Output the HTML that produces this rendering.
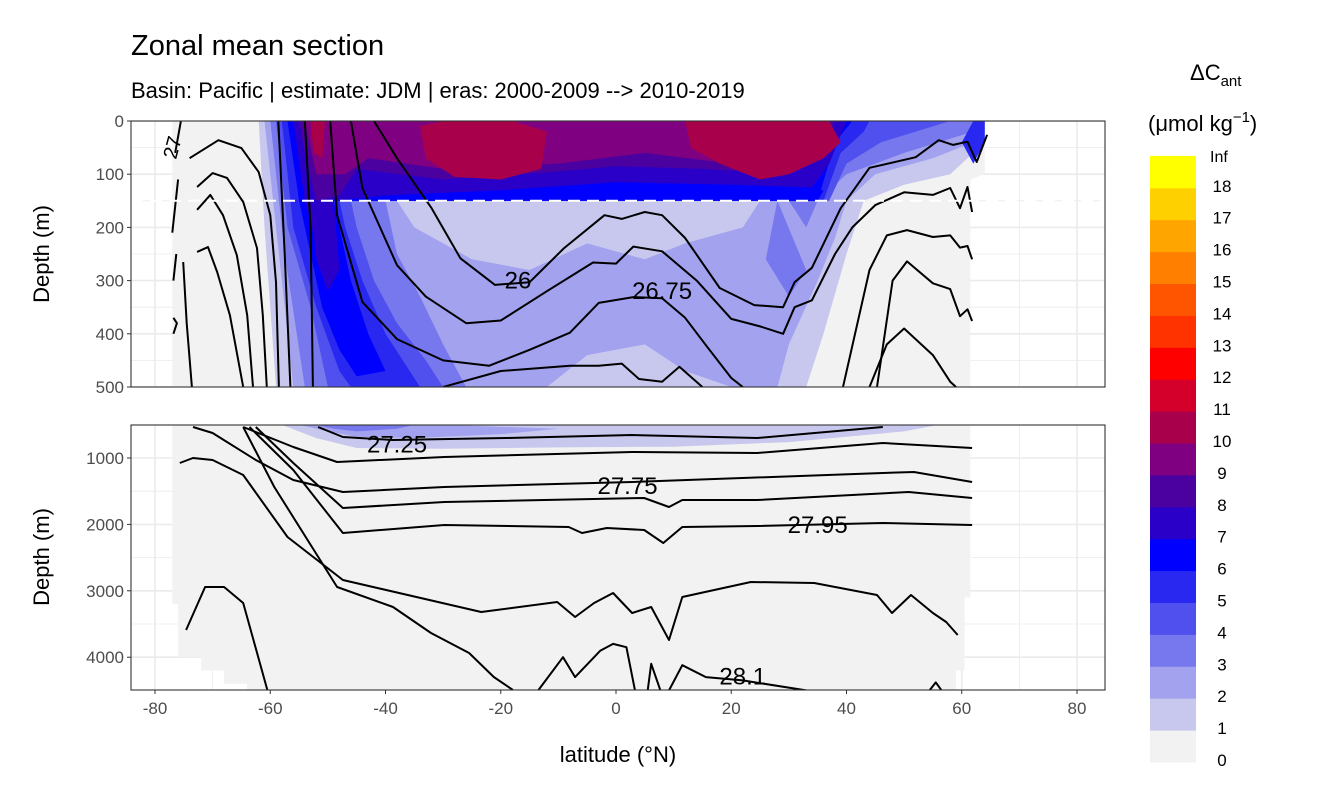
<!DOCTYPE html>
<html><head><meta charset="utf-8"><style>
body{margin:0;background:#fff;}
svg{display:block;font-family:"Liberation Sans",sans-serif;}
</style></head><body>
<svg id="chart" width="1344" height="806" viewBox="0 0 1344 806">
<text x="131" y="55" font-size="29" fill="#000">Zonal mean section</text>
<text x="131" y="98" font-size="22" fill="#000">Basin: Pacific | estimate: JDM  | eras: 2000-2009 --&gt; 2010-2019</text>
<g id="gTop"></g>
<g id="gBot"></g>
<g id="gAx"></g>
<text x="618" y="762" font-size="22" text-anchor="middle">latitude (°N)</text>
<text transform="translate(49,254) rotate(-90)" font-size="22" text-anchor="middle">Depth (m)</text>
<text transform="translate(49,557) rotate(-90)" font-size="22" text-anchor="middle">Depth (m)</text>
<g>
<text x="1190" y="80" font-size="22" text-anchor="start">ΔC<tspan font-size="15" dy="6">ant</tspan></text>
<text x="1148" y="131" font-size="22">(μmol kg<tspan font-size="15" dy="-9">−1</tspan><tspan dy="9">)</tspan></text>
<g id="gLeg"></g>
</g>
</svg>
<script>
const NS="http://www.w3.org/2000/svg";
// ---- data ----
const legendLabels=["0","1","2","3","4","5","6","7","8","9","10","11","12","13","14","15","16","17","18","Inf"];
const levelColors=["#f2f2f2","#c8c8ef","#a2a2ef","#7878ee","#5050ee","#2828f0","#0000ff","#2a00c8","#4b00a0","#7f0080","#a8004a","#d4002b","#ff0000","#ff3300","#ff5500","#ff8000","#ffa500","#ffd000","#ffff00"];
const xTicks=[-80,-60,-40,-20,0,20,40,60,80];
const yTicksTop=[0,100,200,300,400,500];
const yTicksBot=[1000,2000,3000,4000];
const topFillLevels=[0,1,2,1,3,3,4,5,5,6,6,7,8,9,10,10,10,7];
const topFills=[
[[-77,0],[64,0],[64,100],[61.5,110],[61.5,500],[-77,500]],
[[-62,0],[-61,200],[-59,500],[33,500],[36,400],[40,250],[43,150],[50,120],[58,100],[62,60],[62,0]],
[[-61,0],[-59,200],[-56,500],[-12,500],[-5,440],[5,420],[12,470],[20,500],[28,500],[30,420],[35,300],[38,220],[40,150],[45,100],[55,70],[62,40],[62,0]],
[[-38,150],[25,150],[22,200],[12,230],[5,260],[-5,230],[-15,280],[-25,260],[-35,200]],
[[-60,0],[-57.5,250],[-54,500],[-26,500],[-30,420],[-34,330],[-38,250],[-40,150],[30,150],[33,200],[35,150],[40,100],[50,60],[62,20],[62,0]],
[[28,150],[33,280],[30,330],[26,260]],
[[-59,0],[-57,200],[-53,350],[-50,500],[-30,500],[-33,450],[-38,380],[-42,300],[-45,200],[-46,150],[37,150],[40,80],[46,40],[58,0]],
[[-58,0],[-56,200],[-52,350],[-48,470],[-46,500],[-34,500],[-40,400],[-44,300],[-47,200],[-48,150],[36,150],[39,60],[43,20],[44,0]],
[[62,0],[64,0],[64,40],[62,80],[60,40]],
[[-57,0],[-55,150],[-53,250],[-51,350],[-48,430],[-45,480],[-40,470],[-43,400],[-46,300],[-48,200],[-49,150],[35,150],[38,40],[41,0]],
[[-48,150],[35,150],[36,130],[20,125],[0,110],[-20,110],[-40,120]],
[[-56,0],[-54,150],[-52,230],[-49,150],[-40,140],[-20,130],[0,115],[20,120],[34,125],[37,80],[40,0]],
[[-55,0],[-54,60],[-52,150],[-48,140],[-45,90],[-30,110],[-10,95],[0,85],[15,90],[30,100],[35,60],[38,0]],
[[-54,0],[-52,100],[-47,100],[-43,70],[-30,90],[-10,80],[5,60],[20,80],[33,60],[36,0]],
[[-34,10],[-33,70],[-28,105],[-20,110],[-13,90],[-12,20],[-18,0],[-30,0]],
[[12,0],[13,50],[18,80],[25,110],[30,100],[36,70],[39,40],[37,0]],
[[-53,0],[-52.5,60],[-51,70],[-50.5,0]],
[[-53,150],[-52,260],[-50,320],[-48,280],[-49,150]]
];
const botFillLevels=[0,1,2,3];
const botFills=[
[[-77,500],[61.5,500],[61.5,3100],[60.5,3100],[60.5,4200],[59,4200],[59,4500],[-64,4500],[-64,4400],[-68,4400],[-68,4200],[-72,4200],[-72,4000],[-76,4000],[-76,3200],[-77,3200]],
[[-58,500],[56,500],[50,600],[30,760],[10,830],[-10,840],[-30,860],[-45,850],[-52,700]],
[[-55,500],[-30,500],[-10,560],[-20,640],[-35,700],[-45,680],[-50,600]],
[[-52,500],[-35,500],[-38,560],[-45,600],[-49,560]]
];
const topLines=[
[[-42,0],[-38,70],[-32,164],[-27,258],[-21,308],[-15,303],[-9,239],[-2,177],[1,184],[5,171],[8,177],[12,220],[18,314],[24,346],[29,350],[31,303],[34,276],[39,164],[44,88],[46,83],[52,68],[56,36],[58.5,45],[61,39],[62.6,77],[64.4,26]],
[[-46,0],[-44,126],[-38,271],[-33,330],[-26,380],[-20,375],[-12,320],[-4,266],[0,268],[3,236],[8,245],[14,300],[20,372],[25,386],[29,400],[31,350],[34,337],[38,250],[41,200],[45,158],[50,134],[55,139],[58,126],[59.7,164],[61,124],[61.8,171]],
[[-49.6,0],[-48.4,177],[-44,340],[-38,410],[-30,450],[-22,460],[-15,430],[-8,398],[-3,342],[3,331],[8,333],[12,370],[16,427],[20,483],[22,500]],
[[39.4,500],[44,280],[47,215],[50.5,205],[55,218],[58,215],[59.7,238],[61,235],[61.8,260]],
[[-30,500],[-20,470],[-8,460],[-3,460],[1,456],[4,485],[8,490],[11,462],[15,500]],
[[45.3,500],[48,300],[50.5,264],[55,305],[58,316],[59.7,367],[61,354],[61.8,376]],
[[44,500],[47,420],[50,390],[55,440],[58,490],[59,500]],
[[-54,0],[-53,200],[-52.6,500]],
[[-58.6,0],[-57.5,250],[-56.5,500]],
[[-74,70],[-69,36],[-65,51],[-62,96],[-60,177],[-59,303],[-58.5,500]],
[[-72.7,124],[-70,98],[-67.5,107],[-64.7,152],[-62.3,239],[-61.3,365],[-60.6,500]],
[[-72.7,167],[-70.4,139],[-68.2,177],[-65.8,252],[-64,365],[-63,500]],
[[-72.7,246],[-70.8,237],[-69.2,284],[-67,365],[-64.7,500]],
[[-75.1,265],[-74.5,380],[-73.6,500]],
[[-76.5,60],[-75.5,0]],[[-77,210],[-76,110]],[[-76.8,300],[-76.3,250]],[[-76.8,370],[-76.2,380],[-76.8,400]]
];
const botLines=[
[[-51.7,533],[-47.4,684],[-38.7,729],[-19.1,699],[2.8,654],[24.5,699],[46.3,533]],
[[-64.7,533],[-56,834],[-48.4,1060],[-29.8,985],[2.8,910],[24.5,925],[46.3,774],[61.8,849]],
[[-73.4,533],[-70,623],[-62.5,1030],[-56,1331],[-47.4,1512],[-29.8,1437],[2.8,1361],[46.3,1226],[51.7,1211],[61.8,1361]],
[[-62.5,533],[-56,1075],[-47.4,1753],[-29.8,1663],[4.9,1602],[9.2,1738],[11.5,1633],[24.5,1633],[50.8,1512],[61.8,1602]],
[[-63.6,533],[-56,1181],[-47.4,2130],[-29.8,2009],[-8.2,2039],[-5.9,2130],[-1.6,2054],[4.9,2084],[8.2,2280],[11.5,2039],[24.5,2024],[46.3,1979],[61.8,2009]],
[[-75.7,1075],[-73.4,1000],[-70,1030],[-64.7,1256],[-57,2190],[-47.4,2837],[-23.4,3319],[-10.2,3169],[-7.1,3395],[-3.8,3184],[-0.5,3033],[2.8,3334],[6.1,3244],[9.2,3741],[11.5,3093],[23.4,2867],[34.4,2883],[45.3,3063],[47.9,3334],[51.2,3063],[55,3334],[57.3,3470],[59.3,3666]],
[[-64.7,533],[-59.3,1437],[-48.4,2943],[-38.7,3244],[-32.1,3636],[-25.5,3937],[-21.2,4298],[-17.9,4494]],
[[-74.6,3590],[-71.3,2943],[-68,2943],[-64.7,3184],[-60.4,4524]],
[[-13.5,4500],[-9.2,4000],[-7.1,4300],[-2.7,3900],[-0.5,3800],[1.8,3850],[3.3,4500]],
[[5.5,4500],[6.1,4100],[7.7,4500]],
[[9.2,4500],[11.5,4120],[15.6,4300],[22,4350],[33,4500]],
[[54.4,4500],[55.5,4380],[56.5,4500]]
];
const labels=[["26",-17,300],["26.75",8,320],["27.25",-38,800],["27.75",2,1420],["27.95",35,2010],["28.1",22,4290]];
// ---- scales ----
const X0=131,X1=1105,TY0=121,TY1=387,BY0=425,BY1=690;
const px=l=>616+l*5.7625;
const pyT=d=>TY0+d*0.532;
const pyB=d=>458+(d-1000)*0.0664;
function el(tag,attrs,parent){const e=document.createElementNS(NS,tag);for(const k in attrs)e.setAttribute(k,attrs[k]);parent.appendChild(e);return e;}
function pts(arr,fy){return arr.map(p=>px(p[0]).toFixed(1)+","+fy(p[1]).toFixed(1)).join(" ");}
function panel(g,y0,y1,fy,major,minor,fills,fillLv,lines,clipId){
  el("rect",{x:X0,y:y0,width:X1-X0,height:y1-y0,fill:"#fff"},g);
  const cp=el("clipPath",{id:clipId},g);el("rect",{x:X0,y:y0,width:X1-X0,height:y1-y0},cp);
  const gg=el("g",{"clip-path":"url(#"+clipId+")"},g);
  [-70,-50,-30,-10,10,30,50,70].forEach(v=>el("line",{x1:px(v),x2:px(v),y1:y0,y2:y1,stroke:"#ebebeb","stroke-width":0.8},gg));
  minor.forEach(v=>el("line",{x1:X0,x2:X1,y1:fy(v),y2:fy(v),stroke:"#ebebeb","stroke-width":0.8},gg));
  xTicks.forEach(v=>el("line",{x1:px(v),x2:px(v),y1:y0,y2:y1,stroke:"#ebebeb","stroke-width":1.6},gg));
  major.forEach(v=>el("line",{x1:X0,x2:X1,y1:fy(v),y2:fy(v),stroke:"#ebebeb","stroke-width":1.6},gg));
  fills.forEach((f,i)=>{const p=el("polygon",{points:pts(f,fy),fill:levelColors[fillLv[i]]},gg);
    
    });
  lines.forEach(l=>{const p=el("polyline",{points:pts(l,fy),fill:"none",stroke:"#000","stroke-width":2,"stroke-linejoin":"round"},gg);
    
    });
  return gg;
}
const gTop=document.getElementById("gTop"),gBot=document.getElementById("gBot"),gAx=document.getElementById("gAx");
const gt=panel(gTop,TY0,TY1,pyT,yTicksTop,[50,150,250,350,450],topFills,topFillLevels,topLines,"cT");
const dash=el("line",{x1:X0,x2:X1,y1:pyT(150),y2:pyT(150),stroke:"#fff","stroke-width":2,"stroke-dasharray":"12,7"},gt);


const gb=panel(gBot,BY0,BY1,pyB,yTicksBot,[1500,2500,3500],botFills,botFillLevels,botLines,"cB");
const rl=el("text",{x:0,y:0,"font-size":20,transform:"translate(176,160) rotate(-75)"},gt);rl.textContent="27";


labels.forEach(l=>{const top=l[2]<=500;const t=el("text",{x:px(l[1]),y:(top?pyT(l[2]):pyB(l[2]))+8,"font-size":24,"text-anchor":"middle"},top?gt:gb);t.textContent=l[0];
  
  });
[[TY0,TY1],[BY0,BY1]].forEach(b=>el("rect",{x:X0,y:b[0],width:X1-X0,height:b[1]-b[0],fill:"none",stroke:"#333","stroke-width":1.1},gAx));
yTicksTop.forEach(v=>{el("line",{x1:X0-4,x2:X0,y1:pyT(v),y2:pyT(v),stroke:"#333"},gAx);
  const t=el("text",{x:X0-7,y:pyT(v)+6,"font-size":17,"text-anchor":"end",fill:"#4d4d4d"},gAx);t.textContent=v;
  
  });
yTicksBot.forEach(v=>{el("line",{x1:X0-4,x2:X0,y1:pyB(v),y2:pyB(v),stroke:"#333"},gAx);
  const t=el("text",{x:X0-7,y:pyB(v)+6,"font-size":17,"text-anchor":"end",fill:"#4d4d4d"},gAx);t.textContent=v;
  
  });
xTicks.forEach(v=>{el("line",{x1:px(v),x2:px(v),y1:BY1,y2:BY1+4,stroke:"#333"},gAx);
  const t=el("text",{x:px(v),y:BY1+24,"font-size":17,"text-anchor":"middle",fill:"#4d4d4d"},gAx);t.textContent=v;
  
  });
const gLeg=document.getElementById("gLeg");
const LB=762,LH=31.9,n=levelColors.length;
levelColors.forEach((c,i)=>{const r=el("rect",{x:1150,y:LB-(i+1)*LH,width:46,height:LH+0.5,fill:c},gLeg);
  
  });
legendLabels.forEach((s,i)=>{const t=el("text",{x:i==n?1210:1222,y:LB-i*LH+(i==n?6:4),"font-size":i==n?16:17,"text-anchor":i==n?"start":"middle"},gLeg);t.textContent=s;
  
  });
</script>
</body></html>
